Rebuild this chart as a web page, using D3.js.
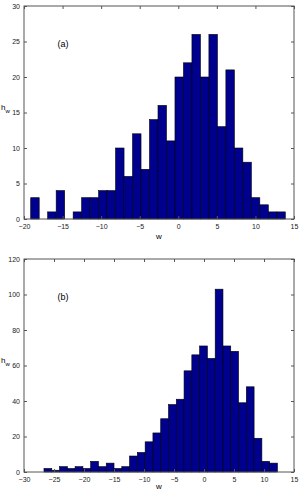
<!DOCTYPE html>
<html>
<head>
<meta charset="utf-8">
<script src="https://cdn.jsdelivr.net/npm/d3@7"></script>
<style>
  body { margin: 0; background: #fff; }
  text { font-family: "Liberation Sans", Arial, sans-serif; }
</style>
</head>
<body>
<svg width="302" height="492"></svg>
<script>
// histogram (a): 30 bins of width 1.1 starting at -19.13
var countsA = [3, 0, 1, 4, 0, 1, 3, 3, 4, 4, 10, 6, 12, 7, 14, 16, 11, 20, 22, 26, 20, 26, 13, 21, 10, 8, 3, 2, 1, 1];
var startA = -19.13, binA = 1.1;
var xTicksA = [-20, -15, -10, -5, 0, 5, 10, 15];
var yTicksA = [0, 5, 10, 15, 20, 25, 30];

// histogram (b): 30 bins of width 1.297 starting at -26.67
var countsB = [2, 1, 3, 2, 3, 2, 6, 3, 5, 2, 3, 9, 11, 17, 22, 30, 38, 41, 57, 66, 71, 64, 103, 71, 68, 39, 48, 19, 6, 5];
var startB = -26.67, binB = 1.297;
var xTicksB = [-30, -25, -20, -15, -10, -5, 0, 5, 10, 15];
var yTicksB = [0, 20, 40, 60, 80, 100, 120];

var svg = d3.select('svg');

var drawHist = function(top, bottom, counts, start, bin, xTicks, yTicks, tag, wOff) {
  var x = d3.scaleLinear().domain([xTicks[0], xTicks[xTicks.length - 1]]).range([24, 294]);
  var y = d3.scaleLinear().domain([yTicks[0], yTicks[yTicks.length - 1]]).range([bottom, top]);
  var g = svg.append('g');

  g.selectAll('rect')
    .data(counts)
    .enter()
    .append('rect')
    .attr('x', function(d, i) { return x(start + i * bin); })
    .attr('width', x(start + bin) - x(start))
    .attr('y', function(d) { return y(d); })
    .attr('height', function(d) { return y(0) - y(d); })
    .attr('fill', '#00008f')
    .attr('stroke', '#000')
    .attr('stroke-width', 0.6);

  var ax = function(a) {
    a.select('.domain').remove();
    a.selectAll('text').attr('fill', '#222').style('font-size', '7px');
    a.selectAll('line').attr('stroke', '#555');
  };
  g.append('g').attr('transform', 'translate(0,' + bottom + ')')
    .call(d3.axisBottom(x).tickValues(xTicks).tickSizeInner(-3).tickSizeOuter(0).tickPadding(5))
    .call(ax);
  g.append('g').attr('transform', 'translate(0,' + top + ')')
    .call(d3.axisTop(x).tickValues(xTicks).tickSizeInner(-3).tickSizeOuter(0).tickFormat(''))
    .call(ax);
  g.append('g').attr('transform', 'translate(24,0)')
    .call(d3.axisLeft(y).tickValues(yTicks).tickSizeInner(-3).tickSizeOuter(0).tickPadding(4))
    .call(ax);
  g.append('g').attr('transform', 'translate(294,0)')
    .call(d3.axisRight(y).tickValues(yTicks).tickSizeInner(-3).tickSizeOuter(0).tickFormat(''))
    .call(ax);

  g.append('rect')
    .attr('x', 24).attr('y', top)
    .attr('width', 270).attr('height', bottom - top)
    .attr('fill', 'none').attr('stroke', '#555').attr('stroke-width', 1);

  g.append('text')
    .attr('x', 63).attr('y', top + 41)
    .attr('text-anchor', 'middle')
    .style('font-size', '9px')
    .text(tag);

  g.append('text')
    .attr('x', 159).attr('y', bottom + wOff)
    .attr('text-anchor', 'middle')
    .style('font-size', '8px')
    .text('w');

  var hy = top + (bottom - top) * 0.49;
  var h = g.append('text').attr('x', 1).attr('y', hy).style('font-size', '8px');
  h.append('tspan').text('h');
  h.append('tspan').attr('dy', 3).style('font-size', '6px').text('w');
};

drawHist(6, 219, countsA, startA, binA, xTicksA, yTicksA, '(a)', 20);
drawHist(259, 472, countsB, startB, binB, xTicksB, yTicksB, '(b)', 17);
</script>
</body>
</html>
